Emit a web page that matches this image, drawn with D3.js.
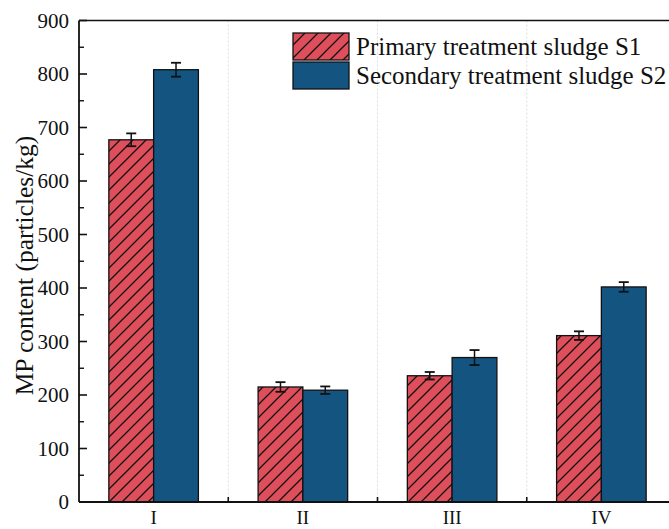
<!DOCTYPE html>
<html><head><meta charset="utf-8">
<script src="https://cdn.jsdelivr.net/npm/d3@7/dist/d3.min.js"></script>
<style>body{margin:0;background:#fff;}svg{display:block;}</style>
</head><body>
<script>
const categories = ["I", "II", "III", "IV"];
const seriesNames = ["Primary treatment sludge S1", "Secondary treatment sludge S2"];
const s1Values = [677, 215, 236, 311];
const s1Errors = [12, 9, 7, 8];
const s2Values = [808, 209, 270, 402];
const s2Errors = [13, 7, 14, 9];
const yTicks = [0, 100, 200, 300, 400, 500, 600, 700, 800, 900];

const W = 669, H = 529;
const mLeft = 79, mRight = 676, mTop = 20.5, mBottom = 502;
const svg = d3.select("body").append("svg").attr("width", W).attr("height", H);
const font = "Liberation Serif, Times New Roman, serif";

const defs = svg.append("defs");
const pat = defs.append("pattern").attr("id", "hatch").attr("patternUnits", "userSpaceOnUse")
  .attr("width", 13).attr("height", 13);
pat.append("rect").attr("width", 13).attr("height", 13).attr("fill", "#DE4F5B");
pat.append("path").attr("d", "M-3,3 L3,-3 M0,13 L13,0 M10,16 L16,10").attr("stroke", "#111").attr("stroke-width", 1.3);

const x0 = d3.scaleBand().domain(categories).range([mLeft, mRight]).paddingInner(0).paddingOuter(0);
const x1b = d3.scaleBand().domain([0, 1]).range([x0.bandwidth() * 0.2, x0.bandwidth() * 0.8]);
const y = d3.scaleLinear().domain([0, 900]).range([mBottom, mTop]);

const sepPos = categories.slice(1).map(c => x0(c));
svg.append("g").selectAll("line").data(sepPos).join("line")
  .attr("x1", d => d).attr("x2", d => d).attr("y1", mTop).attr("y2", mBottom)
  .attr("stroke", "#d4d4d4").attr("stroke-width", 0.8).attr("stroke-dasharray", "2,2");

const series = [
  {vals: s1Values, errs: s1Errors, fill: "url(#hatch)"},
  {vals: s2Values, errs: s2Errors, fill: "#135481"}
];
series.forEach((s, si) => {
  const g = svg.append("g");
  g.selectAll("rect").data(categories).join("rect")
    .attr("x", c => x0(c) + x1b(si)).attr("width", x1b.bandwidth())
    .attr("y", (c, i) => y(s.vals[i])).attr("height", (c, i) => y(0) - y(s.vals[i]))
    .attr("fill", s.fill).attr("stroke", "#111").attr("stroke-width", 1.3);
  categories.forEach((c, i) => {
    const cx = x0(c) + x1b(si) + x1b.bandwidth() / 2;
    const yt = y(s.vals[i] + s.errs[i]), yb = y(s.vals[i] - s.errs[i]);
    g.append("line").attr("x1", cx).attr("x2", cx).attr("y1", yt).attr("y2", yb).attr("stroke", "#111").attr("stroke-width", 1.5);
    g.append("line").attr("x1", cx - 5).attr("x2", cx + 5).attr("y1", yt).attr("y2", yt).attr("stroke", "#111").attr("stroke-width", 1.8);
    g.append("line").attr("x1", cx - 5).attr("x2", cx + 5).attr("y1", yb).attr("y2", yb).attr("stroke", "#111").attr("stroke-width", 1.8);
  });
});

svg.append("line").attr("x1", mLeft).attr("x2", mRight).attr("y1", mTop).attr("y2", mTop).attr("stroke", "#111").attr("stroke-width", 1.6);

const yAxis = d3.axisLeft(y).tickValues(yTicks).tickSize(0).tickPadding(10).tickFormat(d3.format("d"));
const ya = svg.append("g").attr("transform", `translate(${mLeft},0)`).call(yAxis);
ya.attr("font-family", null).attr("font-size", null);
ya.select(".domain").remove();
ya.selectAll("text").style("font-family", font).style("font-size", "21px").attr("fill", "#111");
svg.append("line").attr("x1", mLeft).attr("x2", mLeft).attr("y1", mTop).attr("y2", mBottom).attr("stroke", "#111").attr("stroke-width", 1.8);
const minor = d3.range(50, 900, 100);
svg.append("g").selectAll("line").data(yTicks).join("line")
  .attr("x1", mLeft).attr("x2", mLeft + 8).attr("y1", d => y(d)).attr("y2", d => y(d)).attr("stroke", "#111").attr("stroke-width", 1.6);
svg.append("g").selectAll("line").data(minor).join("line")
  .attr("x1", mLeft).attr("x2", mLeft + 5).attr("y1", d => y(d)).attr("y2", d => y(d)).attr("stroke", "#111").attr("stroke-width", 1.4);

const xAxis = d3.axisBottom(x0).tickSize(0).tickPadding(0);
const xa = svg.append("g").attr("transform", `translate(0,${mBottom})`).call(xAxis);
xa.attr("font-family", null).attr("font-size", null);
xa.select(".domain").remove();
xa.selectAll("text").attr("y", 22).attr("dy", null)
  .style("font-family", font).style("font-size", "19px").attr("fill", "#111");
svg.append("line").attr("x1", mLeft).attr("x2", mRight).attr("y1", mBottom).attr("y2", mBottom).attr("stroke", "#111").attr("stroke-width", 1.8);
svg.append("g").selectAll("line").data(sepPos).join("line")
  .attr("x1", d => d).attr("x2", d => d).attr("y1", mBottom).attr("y2", mBottom - 5).attr("stroke", "#111").attr("stroke-width", 1.6);

svg.append("text").attr("transform", `translate(33,265.5) rotate(-90)`)
  .attr("text-anchor", "middle").style("font-family", font).style("font-size", "25.5px").attr("fill", "#111")
  .text("MP content (particles/kg)");

const lg = svg.append("g");
const fills = ["url(#hatch)", "#135481"];
seriesNames.forEach((n, i) => {
  lg.append("rect").attr("x", 293).attr("y", 33 + i * 29).attr("width", 56).attr("height", 27)
    .attr("fill", fills[i]).attr("stroke", "#111").attr("stroke-width", 1.3);
  lg.append("text").attr("x", 356).attr("y", 55 + i * 29).style("font-family", font).style("font-size", "25px").attr("fill", "#111").text(n);
});
</script>
</body></html>
